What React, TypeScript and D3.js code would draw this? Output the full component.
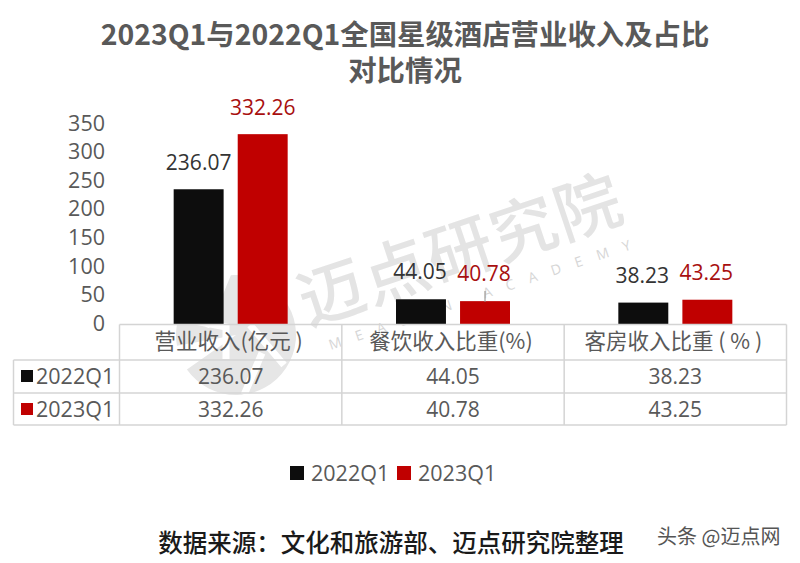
import React from "react";
import * as d3 from "d3";

const categories = ["营业收入(亿元 )", "餐饮收入比重(%)", "客房收入比重 ( % )"];
const seriesNames = ["2022Q1", "2023Q1"];
const values2022 = [236.07, 44.05, 38.23];
const values2023 = [332.26, 40.78, 43.25];
const yTicks = [0, 50, 100, 150, 200, 250, 300, 350];
const colors = ["#0d0d0d", "#c00000"];
const labelColors = ["#333333", "#a80f0f"];

const width = 800;
const height = 563;
const font = "'Open Sans','Noto Sans CJK SC',sans-serif";
const cjk = "'Noto Sans CJK SC',sans-serif";

export default function App() {
  const x = d3.scaleBand<string>().domain(categories).range([119.5, 786.5]);
  const y = d3.scaleLinear().domain([0, 350]).range([324.5, 124]);
  const inner = d3.scaleBand<string>().domain(seriesNames).range([0, 114]).paddingInner(0.22);
  const series = [values2022, values2023];
  const rowY = [324.5, 360, 393, 425];
  const gridColor = "#d4d4d4";
  const logo = d3.arc()({ innerRadius: 0, outerRadius: 60, startAngle: -1.75, endAngle: 4.1 });

  return (
    <svg
      width={width}
      height={height}
      viewBox={`0 0 ${width} ${height}`}
      style={{ position: "absolute", left: 0, top: 0, background: "#fff" }}
    >
      {/* watermark */}
      <g transform="translate(308,326) rotate(-18.5)" fill="#e4e4e4">
        <text fontFamily={cjk} fontWeight={500} fontSize={66} textLength={336}>
          迈点研究院
        </text>
        <text x={14} y={30} fontFamily={font} fontSize={14} letterSpacing={15} fill="#d6d6d6">
          MEADIN ACADEMY
        </text>
      </g>
      <g transform="translate(236,335)">
        <path d={logo ?? ""} fill="#e6e6e6" />
        <path d="M-62 -18 L-10 -8 L-10 24 M-8 -62 L-30 -8 M14 -10 L48 30 M8 60 L26 18" stroke="#fff" strokeWidth={7} fill="none" />
      </g>

      {/* title */}
      <g fontFamily={cjk} fontWeight={700} fontSize={28.4} fill="#595959" textAnchor="middle">
        <text x={405} y={45}>2023Q1与2022Q1全国星级酒店营业收入及占比</text>
        <text x={405} y={81}>对比情况</text>
      </g>

      {/* y axis labels */}
      <g fontFamily={font} fontSize={21.5} fill="#595959" textAnchor="end">
        {yTicks.map((t) => (
          <text key={t} x={105} y={y(t)! + 6.5}>
            {t}
          </text>
        ))}
      </g>

      {/* bars */}
      {series.map((vals, s) => (
        <g key={seriesNames[s]}>
          {categories.map((c, i) => {
            const bx = x(c)! + (x.bandwidth() - 114) / 2 + inner(seriesNames[s])!;
            return (
              <g key={c}>
                <rect
                  x={bx}
                  y={y(vals[i])}
                  width={inner.bandwidth()}
                  height={y(0) - y(vals[i])}
                  fill={colors[s]}
                />
                <text
                  x={bx + inner.bandwidth() / 2 + (i > 0 ? -1 : 0)}
                  y={y(vals[i]) - (i === 0 ? 19 : 20)}
                  fontFamily={font}
                  fontSize={21}
                  fill={labelColors[s]}
                  textAnchor="middle"
                >
                  {vals[i]}
                </text>
              </g>
            );
          })}
        </g>
      ))}
      <line x1={485} x2={485} y1={291} y2={302} stroke="#8c8c8c" strokeWidth={1} />

      {/* data table */}
      <g stroke={gridColor} strokeWidth={1.5} fill="none">
        <line x1={119.5} x2={786.5} y1={rowY[0]} y2={rowY[0]} />
        {rowY.slice(1).map((ry) => (
          <line key={ry} x1={13.5} x2={786.5} y1={ry} y2={ry} />
        ))}
        <line x1={13.5} x2={13.5} y1={rowY[1]} y2={rowY[3]} />
        <line x1={119.5} x2={119.5} y1={rowY[0]} y2={rowY[3]} />
        {categories.map((c) => (
          <line key={c} x1={x(c)! + x.bandwidth()} x2={x(c)! + x.bandwidth()} y1={rowY[0]} y2={rowY[3]} />
        ))}
      </g>
      <g fontSize={21} fill="#595959" textAnchor="middle" fontFamily={font}>
        {categories.map((c) => (
          <text key={c} x={x(c)! + x.bandwidth() / 2 - 2} y={349} fontFamily={cjk} fontSize={21.5}>
            {c}
          </text>
        ))}
        {series.map((vals, s) =>
          categories.map((c, i) => (
            <text key={c} x={x(c)! + x.bandwidth() / 2} y={rowY[s + 1] + 24}>
              {vals[i]}
            </text>
          ))
        )}
      </g>
      {seriesNames.map((n, s) => (
        <g key={n}>
          <rect x={21} y={rowY[s + 1] + 10} width={12} height={12} fill={colors[s]} />
          <text x={36} y={rowY[s + 1] + 24} fontFamily={font} fontSize={21.5} fill="#595959">
            {n}
          </text>
        </g>
      ))}

      {/* legend */}
      {seriesNames.map((n, s) => (
        <g key={n} transform={`translate(${290 + s * 107},0)`}>
          <rect x={0} y={466} width={14} height={14} fill={colors[s]} />
          <text x={21} y={481} fontFamily={font} fontSize={21.5} fill="#595959">
            {n}
          </text>
        </g>
      ))}

      {/* source */}
      <text x={391} y={552} textAnchor="middle" fontFamily={cjk} fontSize={24.5} fontWeight={500} fill="#1a1a1a">
        数据来源：文化和旅游部、迈点研究院整理
      </text>
      <text x={657} y={544} fontFamily={cjk} fontSize={20} fill="#555555">
        头条 @迈点网
      </text>
    </svg>
  );
}
